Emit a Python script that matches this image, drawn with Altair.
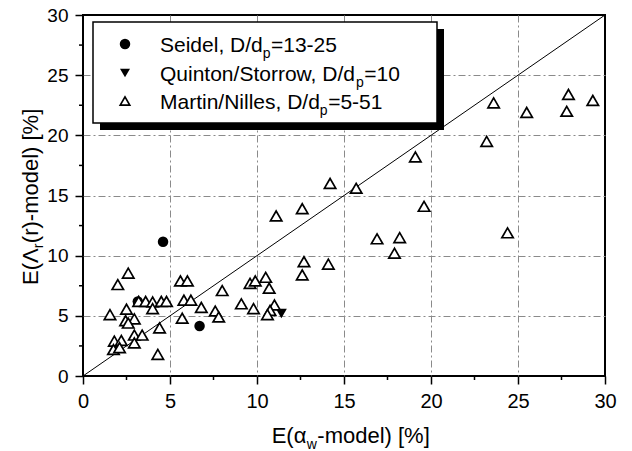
import altair as alt
import pandas as pd

# ---------------- data ----------------
martin_x = [23.6, 25.5, 27.9, 27.8, 29.3, 23.2, 19.1, 14.2, 15.7, 12.6, 11.1, 19.6, 24.4, 16.9, 18.2, 17.9, 12.7, 14.1, 12.6,
            9.6, 9.9, 10.5, 10.7, 8.0, 5.6, 6.0, 5.8, 6.2, 6.8, 7.6, 7.8, 9.1, 9.8, 11.0, 10.75, 10.6, 5.7, 4.4, 4.3,
            2.6, 2.0, 3.2, 3.6, 4.0, 4.5, 4.8, 4.0, 1.55, 2.5, 2.95, 2.45, 2.6, 2.95, 3.4, 2.95, 1.8, 2.2, 1.75, 2.1]
martin_y = [22.7, 21.9, 23.4, 22.0, 22.9, 19.5, 18.2, 16.0, 15.6, 13.9, 13.3, 14.1, 11.9, 11.4, 11.5, 10.2, 9.5, 9.3, 8.4,
            7.7, 7.9, 8.2, 7.3, 7.1, 7.9, 7.9, 6.3, 6.3, 5.7, 5.4, 4.9, 6.0, 5.6, 5.9, 5.45, 5.1, 4.8, 4.0, 1.8,
            8.55, 7.6, 6.2, 6.2, 6.15, 6.2, 6.2, 5.6, 5.1, 5.55, 4.75, 4.6, 4.4, 3.4, 3.4, 2.75, 2.9, 2.95, 2.2, 2.35]
seidel_x = [4.6, 3.15, 6.7]
seidel_y = [11.15, 6.2, 4.15]
quinton_x = [11.4]
quinton_y = [5.2]
diag = [0, 30]
major_ticks = [0, 5, 10, 15, 20, 25, 30]
minor_ticks = [2.5, 7.5, 12.5, 17.5, 22.5, 27.5]
legend_rows = [("Seidel, D/d", "p", "=13-25"),
               ("Quinton/Storrow, D/d", "p", "=10"),
               ("Martin/Nilles, D/d", "p", "=5-51")]

FONT = "Liberation Sans"
W, H = 522, 361

# Arial / Liberation Sans advance widths (per 1000 em) for layout of sub-scripted text
WID = {' ': 278, ',': 278, '-': 333, '/': 278, '=': 584, 'D': 722, 'E': 667, 'M': 833, 'N': 722,
       'Q': 778, 'S': 667, '[': 278, ']': 278, '%': 889, '(': 333, ')': 333, 'a': 556, 'd': 556,
       'e': 556, 'i': 222, 'l': 222, 'm': 833, 'n': 556, 'o': 556, 'p': 556, 'r': 333, 's': 500,
       't': 278, 'u': 556, 'w': 722, 'α': 578, 'Λ': 667}


def tw(s, size):
    return sum(WID.get(c, 556) for c in s) * size / 1000.0


xs = alt.Scale(domain=[0, 30], nice=False, zero=False)
ys = alt.Scale(domain=[0, 30], nice=False, zero=False)
grid_op = {"condition": {"test": "datum.value == 0 || datum.value == 30", "value": 0}, "value": 1}
xaxis = alt.Axis(values=major_ticks, title=None, format="d", gridOpacity=grid_op, labelFontSize=20)
yaxis = alt.Axis(values=major_ticks, title=None, format="d", gridOpacity=grid_op, labelFontSize=19)


def X(f):
    return alt.X(f, type="quantitative", scale=xs, axis=xaxis)


def Y(f):
    return alt.Y(f, type="quantitative", scale=ys, axis=yaxis)


one = alt.Data(values=[{"a": 1}])


def txt(s, x, y, size, align="left", angle=0):
    return alt.Chart(one).mark_text(text=s, font=FONT, fontSize=size, align=align,
                                    baseline="alphabetic", angle=angle, color="black").encode(
        x=alt.value(x), y=alt.value(y))


layers = []

# diagonal y = x
ddf = pd.DataFrame({"x": diag, "y": diag})
layers.append(alt.Chart(ddf).mark_line(color="black", strokeWidth=1).encode(x=X("x"), y=Y("y")))

# data series
sdf = pd.DataFrame({"x": seidel_x, "y": seidel_y})
layers.append(alt.Chart(sdf).mark_point(shape="circle", filled=True, color="black", size=110, opacity=1)
              .encode(x=X("x"), y=Y("y")))
qdf = pd.DataFrame({"x": quinton_x, "y": quinton_y})
layers.append(alt.Chart(qdf).mark_point(shape="triangle-down", filled=True, color="black", size=121, opacity=1)
              .encode(x=X("x"), y=Y("y")))
mdf = pd.DataFrame({"x": martin_x, "y": martin_y})
layers.append(alt.Chart(mdf).mark_point(shape="triangle-up", fill="white", fillOpacity=1, stroke="black",
                                        strokeWidth=1.7, size=130, opacity=1)
              .encode(x=X("x"), y=Y("y")))

# minor ticks
mx = pd.DataFrame({"x": minor_ticks})
layers.append(alt.Chart(mx).mark_rule(color="black", strokeWidth=1.5).encode(
    x=X("x"), y=alt.value(H), y2=alt.value(H + 4)))
my = pd.DataFrame({"y": minor_ticks})
layers.append(alt.Chart(my).mark_rule(color="black", strokeWidth=1.5).encode(
    y=Y("y"), x=alt.value(0), x2=alt.value(-4)))

# legend box with shadow
layers.append(alt.Chart(one).mark_rect(color="black").encode(
    x=alt.value(17), x2=alt.value(361), y=alt.value(14), y2=alt.value(115)))
layers.append(alt.Chart(one).mark_rect(fill="white", stroke="black", strokeWidth=1.5).encode(
    x=alt.value(10), x2=alt.value(354), y=alt.value(7), y2=alt.value(108)))

sym_y = [29, 58, 86]
layers.append(alt.Chart(one).mark_point(shape="circle", filled=True, color="black", size=110, opacity=1)
              .encode(x=alt.value(42), y=alt.value(sym_y[0])))
layers.append(alt.Chart(one).mark_point(shape="triangle-down", filled=True, color="black", size=100, opacity=1)
              .encode(x=alt.value(42), y=alt.value(sym_y[1])))
layers.append(alt.Chart(one).mark_point(shape="triangle-up", fill="white", fillOpacity=1, stroke="black",
                                        strokeWidth=1.7, size=90, opacity=1)
              .encode(x=alt.value(42), y=alt.value(sym_y[2])))

LS, LSS = 21, 14
for (main, sub, rest), sy in zip(legend_rows, sym_y):
    bx = 77
    by = sy + 7.5
    layers.append(txt(main, bx, by, LS))
    x1 = bx + tw(main, LS)
    layers.append(txt(sub, x1, by + 6, LSS))
    x2 = x1 + tw(sub, LSS) + 0.5
    layers.append(txt(rest, x2, by, LS))

# x axis title: E(α_w-model) [%]
TS, TSS = 22, 14
xa = 223.4
xb = 428
layers.append(txt("E(α", xa, xb, TS, align="right"))
layers.append(txt("w", xa + 0.3, xb + 6, TSS))
layers.append(txt("-model) [%]", xa + 0.3 + tw("w", TSS) + 0.5, xb, TS))

# y axis title: E(Λ_r(r)-model) [%]
yb = -45.5
y0 = 270
layers.append(txt("E(Λ", yb, y0, TS, angle=270))
y1 = y0 - tw("E(Λ", TS)
layers.append(txt("r", yb + 5, y1, TSS, angle=270))
y2 = y1 - tw("r", TSS) - 0.5
layers.append(txt("(r)-model) [%]", yb, y2, TS, angle=270))

chart = alt.layer(*layers).properties(
    width=W, height=H,
    autosize=alt.AutoSizeParams(type="none"),
    padding={"left": 75, "top": 7, "right": 19, "bottom": 75},
).configure_view(stroke="black", strokeWidth=2).configure_axis(
    domain=False,
    labelFont=FONT, labelColor="black",
    tickColor="black", tickSize=8, tickWidth=1.5,
    labelPadding=7, labelFlush=False, labelOverlap=False, labelBound=False,
    grid=True, gridColor="#8a8a8a", gridDash=[7, 3, 2, 3], gridWidth=1,
)

chart.save("out.html", embed_options={"renderer": "svg", "actions": False})
